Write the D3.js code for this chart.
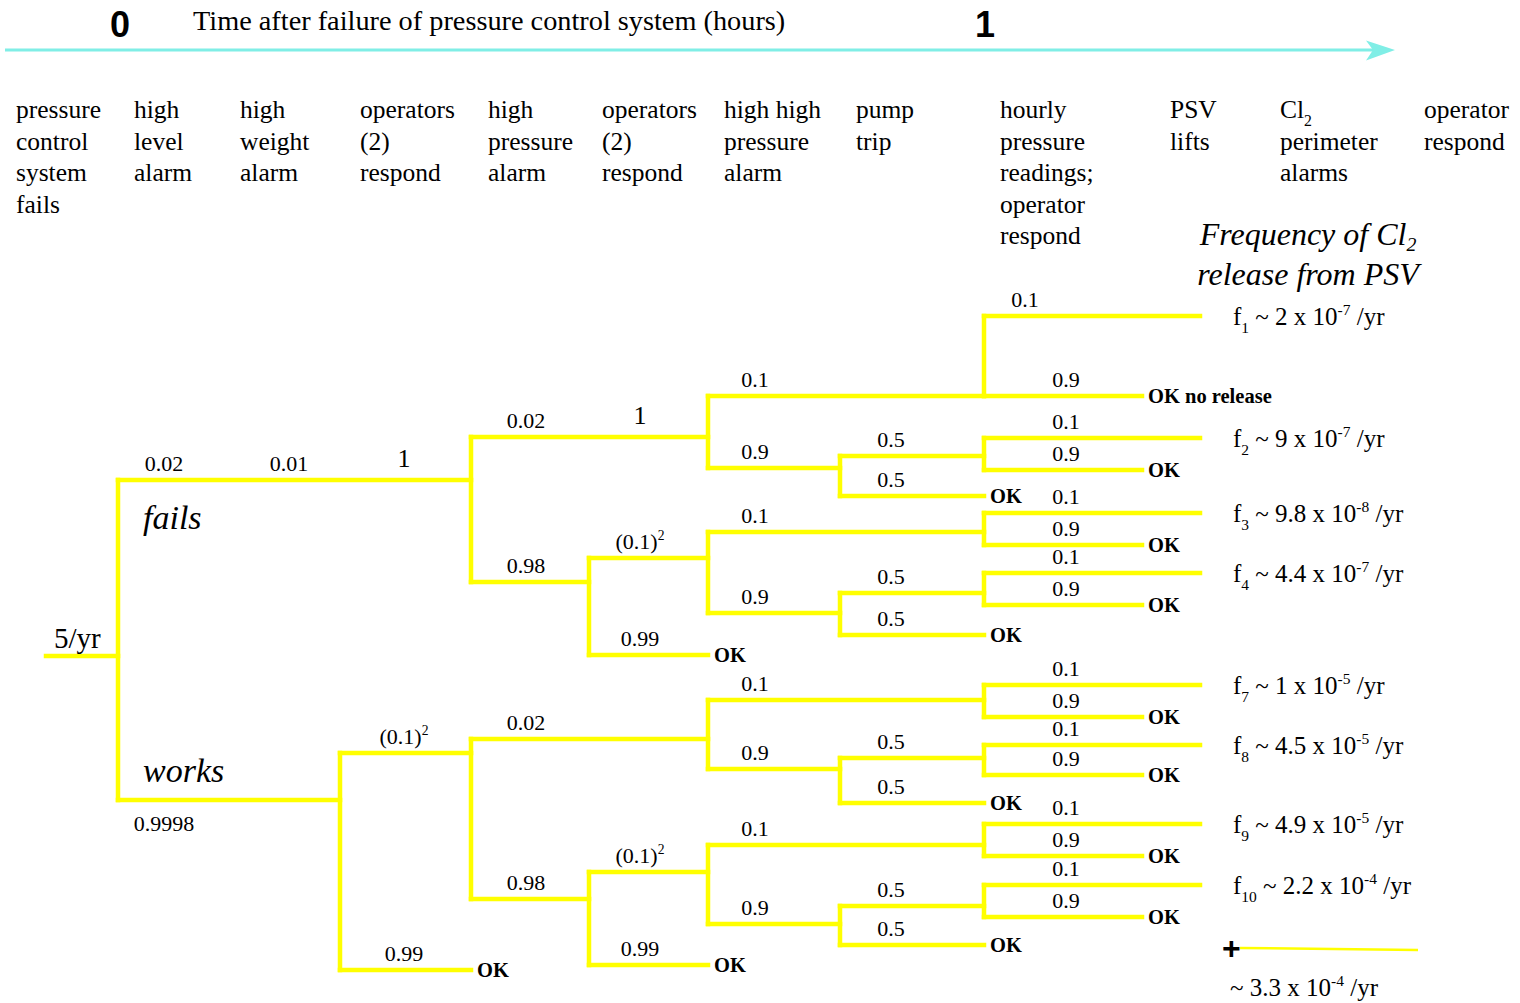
<!DOCTYPE html>
<html>
<head>
<meta charset="utf-8">
<script src="https://cdn.jsdelivr.net/npm/d3@7"></script>
<style>
  body { margin: 0; background: #fff; }
  svg { display: block; }
</style>
</head>
<body>
<svg id="chart" width="1520" height="1003"></svg>
<script>
// event tree: Cl2 release after failure of the pressure control system

const SERIF =  "'Liberation Serif', 'Times New Roman', serif";
const SANS =   "'Liberation Sans', Arial, sans-serif";
const YELLOW = '#ffff00';
const CYAN =   '#80eee6';
const INK =    '#000';

// ---- data ----
const TITLE = 'Time after failure of pressure control system (hours)';
const TIME_TICKS = [0, 1];
const EVENTS = [
    ['pressure', 'control', 'system', 'fails'],
    ['high', 'level', 'alarm'],
    ['high', 'weight', 'alarm'],
    ['operators', '(2)', 'respond'],
    ['high', 'pressure', 'alarm'],
    ['operators', '(2)', 'respond'],
    ['high high', 'pressure', 'alarm'],
    ['pump', 'trip'],
    ['hourly', 'pressure', 'readings;', 'operator', 'respond'],
    ['PSV', 'lifts'],
    ['Cl_{2}', 'perimeter', 'alarms'],
    ['operator', 'respond']
];
const INITIATOR = '5/yr';
const STATES = ['fails', 'works'];

// id, parent, label column of the probability, probability, end stage, row, outcome
const BRANCHES = [
    ['R',       null,    0, '',          1, 44.5,   ''],
    ['A',       'R',     1, '0.02',      3, 22.5,   ''],
    ['A1',      'A',     4, '0.02',      5, 17.125, ''],
    ['A1a',     'A1',    6, '0.1',       7, 12,     ''],
    ['A1a1',    'A1a',   8, '0.1',       9, 2,      'release'],
    ['A1a2',    'A1a',   9, '0.9',       8, 12,     'OK no release'],
    ['A1b',     'A1',    6, '0.9',       6, 21,     ''],
    ['A1b1',    'A1b',   7, '0.5',       7, 19.5,   ''],
    ['A1b1a',   'A1b1',  9, '0.1',       9, 17.25,  'release'],
    ['A1b1b',   'A1b1',  9, '0.9',       8, 21.25,  'OK'],
    ['A1b2',    'A1b',   7, '0.5',       7, 24.5,   'OK'],
    ['A2',      'A',     4, '0.98',      4, 35.25,  ''],
    ['A2a',     'A2',    5, '(0.1)^{2}', 5, 32.25,  ''],
    ['A2a1',    'A2a',   6, '0.1',       7, 29,     ''],
    ['A2a1a',   'A2a1',  9, '0.1',       9, 26.625, 'release'],
    ['A2a1b',   'A2a1',  9, '0.9',       8, 30.625, 'OK'],
    ['A2a2',    'A2a',   6, '0.9',       6, 39.125, ''],
    ['A2a2a',   'A2a2',  7, '0.5',       7, 36.625, ''],
    ['A2a2a1',  'A2a2a', 9, '0.1',       9, 34.125, 'release'],
    ['A2a2a2',  'A2a2a', 9, '0.9',       8, 38.125, 'OK'],
    ['A2a2b',   'A2a2',  7, '0.5',       7, 41.875, 'OK'],
    ['A2b',     'A2',    5, '0.99',      5, 44.375, 'OK'],
    ['B',       'R',     1, '0.9998',    2, 62.5,   ''],
    ['B1',      'B',     3, '(0.1)^{2}', 3, 56.625, ''],
    ['B1a',     'B1',    4, '0.02',      5, 54.875, ''],
    ['B1a1',    'B1a',   6, '0.1',       7, 50,     ''],
    ['B1a1a',   'B1a1',  9, '0.1',       9, 48.125, 'release'],
    ['B1a1b',   'B1a1',  9, '0.9',       8, 52.125, 'OK'],
    ['B1a2',    'B1a',   6, '0.9',       6, 58.625, ''],
    ['B1a2a',   'B1a2',  7, '0.5',       7, 57.25,  ''],
    ['B1a2a1',  'B1a2a', 9, '0.1',       9, 55.625, 'release'],
    ['B1a2a2',  'B1a2a', 9, '0.9',       8, 59.375, 'OK'],
    ['B1a2b',   'B1a2',  7, '0.5',       7, 62.875, 'OK'],
    ['B1b',     'B1',    4, '0.98',      4, 74.875, ''],
    ['B1b1',    'B1b',   5, '(0.1)^{2}', 5, 71.5,   ''],
    ['B1b1a',   'B1b1',  6, '0.1',       7, 68.125, ''],
    ['B1b1a1',  'B1b1a', 9, '0.1',       9, 65.5,   'release'],
    ['B1b1a2',  'B1b1a', 9, '0.9',       8, 69.5,   'OK'],
    ['B1b1b',   'B1b1',  6, '0.9',       6, 78,     ''],
    ['B1b1b1',  'B1b1b', 7, '0.5',       7, 75.75,  ''],
    ['B1b1b1a', 'B1b1b1',9, '0.1',       9, 73.125, 'release'],
    ['B1b1b1b', 'B1b1b1',9, '0.9',       8, 77.125, 'OK'],
    ['B1b1b2',  'B1b1b', 7, '0.5',       7, 80.625, 'OK'],
    ['B1b2',    'B1b',   5, '0.99',      5, 83.125, 'OK'],
    ['B2',      'B',     3, '0.99',      3, 83.75,  'OK']
];
// probabilities written further along a branch that does not split there
const EXTRA_PROBS = [['A', 2, '0.01'], ['A', 3, '1'], ['A1', 5, '1']];

const FREQ_INDEX = ['1', '2', '3', '4', '7', '8', '9', '10'];
const FREQ_VALUE = ['2', '9', '9.8', '4.4', '1', '4.5', '4.9', '2.2'];
const FREQ_EXP =   ['-7', '-7', '-8', '-7', '-5', '-5', '-5', '-4'];
const TOTAL_VALUE = '3.3';
const TOTAL_EXP = '-4';
const RESULT_TITLE = ['Frequency of Cl_{2}', 'release from PSV'];

// ---- layout ----
const STAGE_X =  [46, 118, 340, 471, 589, 708, 840, 984, 1142, 1200];
const COL_LEFT = [16, 134, 240, 360, 488, 602, 724, 856, 1000, 1170, 1280, 1424];
const PROB_CX =  [0, 164, 289, 404, 526, 640, 755, 891, 1025, 1066];

const x = d3.scaleLinear().domain(d3.range(STAGE_X.length)).range(STAGE_X);
const y = d3.scaleLinear().domain([0, 85]).range([300, 980]);
const probX = d3.scaleOrdinal().domain(d3.range(PROB_CX.length)).range(PROB_CX);
const timeX = d3.scaleLinear().domain([0, 1]).range([120, 985]);

const svg = d3.select('#chart');

// text with _{sub} and ^{sup} pieces
function rich(sel, str, fs, subDrop = 0.3) {
    const parts = str.split(/([_^]\{[^}]*\})/).filter(s => s.length);
    let off = 0;
    parts.forEach(p => {
        let s = p, target = 0, small = false;
        if (p[0] === '^' || p[0] === '_') {
            s = p.slice(2, -1);
            target = p[0] === '^' ? -0.4 * fs : subDrop * fs;
            small = true;
        }
        const ts = sel.append('tspan').attr('dy', target - off).text(s);
        if (small) ts.attr('font-size', fs * 0.62);
        off = target;
    });
    return sel;
}

// ---- time axis ----
svg.append('line')
    .attr('x1', 5).attr('x2', 1378).attr('y1', 50).attr('y2', 50)
    .attr('stroke', CYAN).attr('stroke-width', 3);
svg.append('path')
    .attr('d', 'M1395,50 L1366,40.5 L1373,50 L1366,60.5 Z')
    .attr('fill', CYAN);

svg.append('g').selectAll('text')
    .data(TIME_TICKS)
    .join('text')
    .attr('x', d => timeX(d))
    .attr('y', 37)
    .attr('text-anchor', 'middle')
    .style('font-family', SANS)
    .style('font-weight', 'bold')
    .style('font-size', '36px')
    .attr('fill', INK)
    .text(d => d);

svg.append('text')
    .attr('x', 193).attr('y', 30)
    .style('font-family', SERIF).style('font-size', '28.3px')
    .attr('fill', INK)
    .text(TITLE);

// ---- event headers ----
const gHead = svg.append('g')
    .style('font-family', SERIF).style('font-size', '25.5px').attr('fill', INK);
EVENTS.forEach((lines, i) => {
    lines.forEach((ln, j) => {
        rich(gHead.append('text').attr('x', COL_LEFT[i]).attr('y', 118 + j * 31.5), ln, 25.5);
    });
});

const gRes = svg.append('g')
    .style('font-family', SERIF).style('font-size', '32px').style('font-style', 'italic')
    .attr('text-anchor', 'middle').attr('fill', INK);
RESULT_TITLE.forEach((ln, j) => {
    rich(gRes.append('text').attr('x', 1308).attr('y', 245 + j * 40), ln, 32, 0.2);
});

// ---- tree ----
const table = BRANCHES.map(([id, parent, col, p, stage, row, outcome]) =>
    ({id, parent, col, p, stage, row, outcome}));
const root = d3.stratify().id(d => d.id).parentId(d => d.parent)(table);
const nodes = root.descendants();

const gLink = svg.append('g')
    .attr('fill', 'none')
    .attr('stroke', YELLOW)
    .attr('stroke-width', 4.5)
    .attr('stroke-linecap', 'square');

gLink.selectAll('line.h')
    .data(nodes)
    .join('line')
    .attr('class', 'h')
    .attr('x1', d => x(d.parent ? d.parent.data.stage : 0))
    .attr('x2', d => x(d.data.stage))
    .attr('y1', d => y(d.data.row))
    .attr('y2', d => y(d.data.row));

gLink.selectAll('line.v')
    .data(nodes.filter(d => d.children))
    .join('line')
    .attr('class', 'v')
    .attr('x1', d => x(d.data.stage))
    .attr('x2', d => x(d.data.stage))
    .attr('y1', d => y(d3.min(d.children, c => c.data.row)))
    .attr('y2', d => y(d3.max(d.children, c => c.data.row)));

// probabilities
const probs = nodes.filter(d => d.data.p)
    .map(d => ({node: d, col: d.data.col, p: d.data.p}))
    .concat(EXTRA_PROBS.map(([id, col, p]) => ({node: root.find(n => n.id === id), col, p})));

const gProb = svg.append('g')
    .style('font-family', SERIF).attr('fill', INK).attr('text-anchor', 'middle');
probs.forEach(d => {
    const big = d.p === '1';
    const fs = big ? 26 : 22;
    // the lower initiating branch carries its state name above, so its probability sits below
    const below = d.node.parent === root && d.node !== root.children[0];
    const t = gProb.append('text')
        .attr('x', probX(d.col))
        .attr('y', y(d.node.data.row) + (below ? 31 : (big ? -13 : -9)))
        .style('font-size', fs + 'px');
    rich(t, d.p, fs);
});

// initiating frequency and states
svg.append('text')
    .attr('x', x(0) + 8).attr('y', y(root.data.row) - 8)
    .style('font-family', SERIF).style('font-size', '29px').attr('fill', INK)
    .text(INITIATOR);

root.children.forEach((c, i) => {
    svg.append('text')
        .attr('x', x(1) + 25)
        .attr('y', y(c.data.row) + (i === 0 ? 49 : -18))
        .style('font-family', SERIF).style('font-style', 'italic').style('font-size', '34px')
        .attr('fill', INK)
        .text(STATES[i]);
});

// outcomes
svg.append('g')
    .selectAll('text')
    .data(nodes.filter(d => d.data.outcome && d.data.outcome !== 'release'))
    .join('text')
    .attr('x', d => x(d.data.stage) + 6)
    .attr('y', d => y(d.data.row) + 7)
    .style('font-family', SERIF).style('font-weight', 'bold').style('font-size', '20.5px')
    .attr('fill', INK)
    .text(d => d.data.outcome);

const releases = nodes.filter(d => d.data.outcome === 'release')
    .sort((a, b) => a.data.row - b.data.row);

const gFreq = svg.append('g').style('font-family', SERIF).style('font-size', '25px').attr('fill', INK);
releases.forEach((d, i) => {
    const t = gFreq.append('text').attr('x', x(d.data.stage) + 33).attr('y', y(d.data.row) + 9);
    rich(t, `f_{${FREQ_INDEX[i]}} ~ ${FREQ_VALUE[i]} x 10^{${FREQ_EXP[i]}} /yr`, 25);
});

// sum of the release frequencies
const last = releases[releases.length - 1];
const sumY = y(last.data.row) + 63;
svg.append('text')
    .attr('x', x(9) + 22).attr('y', sumY + 11)
    .style('font-family', SANS).style('font-weight', 'bold').style('font-size', '32px')
    .attr('fill', INK)
    .text('+');
svg.append('line')
    .attr('x1', x(9) + 40).attr('x2', x(9) + 218)
    .attr('y1', sumY).attr('y2', sumY + 2)
    .attr('stroke', YELLOW).attr('stroke-width', 2.5);
rich(svg.append('text')
    .attr('x', x(9) + 30).attr('y', sumY + 48)
    .style('font-family', SERIF).style('font-size', '25px').attr('fill', INK),
    `~ ${TOTAL_VALUE} x 10^{${TOTAL_EXP}} /yr`, 25);
</script>
</body>
</html>
